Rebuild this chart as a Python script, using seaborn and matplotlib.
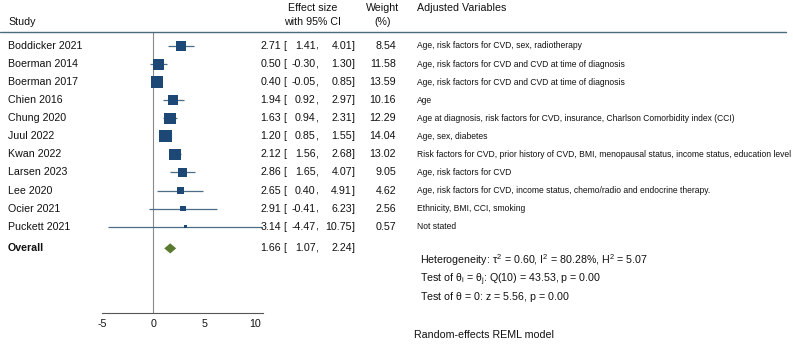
import numpy as np
import pandas as pd
import matplotlib
matplotlib.use("Agg")
import matplotlib.pyplot as plt
import matplotlib.transforms as mtransforms
from matplotlib.lines import Line2D
import seaborn as sns

studies = ["Boddicker 2021", "Boerman 2014", "Boerman 2017", "Chien 2016", "Chung 2020",
           "Juul 2022", "Kwan 2022", "Larsen 2023", "Lee 2020", "Ocier 2021", "Puckett 2021"]
effect = [2.71, 0.50, 0.40, 1.94, 1.63, 1.20, 2.12, 2.86, 2.65, 2.91, 3.14]
ci_low = [1.41, -0.30, -0.05, 0.92, 0.94, 0.85, 1.56, 1.65, 0.40, -0.41, -4.47]
ci_high = [4.01, 1.30, 0.85, 2.97, 2.31, 1.55, 2.68, 4.07, 4.91, 6.23, 10.75]
weights = [8.54, 11.58, 13.59, 10.16, 12.29, 14.04, 13.02, 9.05, 4.62, 2.56, 0.57]
adjusted = [
    "Age, risk factors for CVD, sex, radiotherapy",
    "Age, risk factors for CVD and CVD at time of diagnosis",
    "Age, risk factors for CVD and CVD at time of diagnosis",
    "Age",
    "Age at diagnosis, risk factors for CVD, insurance, Charlson Comorbidity index (CCI)",
    "Age, sex, diabetes",
    "Risk factors for CVD, prior history of CVD, BMI, menopausal status, income status, education level",
    "Age, risk factors for CVD",
    "Age, risk factors for CVD, income status, chemo/radio and endocrine therapy.",
    "Ethnicity, BMI, CCI, smoking",
    "Not stated",
]
overall = [1.66, 1.07, 2.24]  # estimate, low, high
het_lines = [
    r"Heterogeneity: $\tau^2$ = 0.60, I$^2$ = 80.28%, H$^2$ = 5.07",
    r"Test of $\theta_i$ = $\theta_j$: Q(10) = 43.53, p = 0.00",
    r"Test of $\theta$ = 0: z = 5.56, p = 0.00",
]
xticks = [-5, 0, 5, 10]

sns.set_theme(style="white")
plt.rcParams["font.family"] = ["Liberation Sans", "DejaVu Sans"]
plt.rcParams["mathtext.fontset"] = "custom"
plt.rcParams["mathtext.rm"] = "Liberation Sans"
plt.rcParams["mathtext.it"] = "Liberation Sans"

W, H = 793, 344
fig = plt.figure(figsize=(W / 100, H / 100), dpi=100)
fig.patch.set_facecolor("white")

# forest panel: x from -5 (px 102.3) to 10.78 (px 263.3), y from px 32 to 313
ax = fig.add_axes([102.3 / W, (H - 313) / H, 161 / W, (313 - 32) / H])
rows = np.arange(len(studies))
overall_y = len(studies) + 0.2
df = pd.DataFrame({"study": studies, "effect": effect, "lo": ci_low,
                   "hi": ci_high, "weight": weights, "row": rows})

ci_col = "#4d6d86"
sq_col = "#1d4775"
ax.hlines(df["row"], df["lo"], df["hi"], color=ci_col, lw=0.9, zorder=2)
sns.scatterplot(data=df, x="effect", y="row", size="weight", sizes=(0.57 * 5.5, 14.04 * 5.5),
                marker="s", color=sq_col, edgecolor="none", legend=False, ax=ax, zorder=3)
ax.fill([overall[1], overall[0], overall[2], overall[0]],
        [overall_y, overall_y - 0.28, overall_y, overall_y + 0.28],
        color="#5a7a2f", lw=0, zorder=3)
ax.axvline(0, color="#8a8a8a", lw=0.8, zorder=1)

ax.set_xlim(-5, 10.78)
ax.set_ylim((313 - 46) / 18.07, (32 - 46) / 18.07)
ax.set_xticks(xticks)
ax.set_xticklabels([str(t) for t in xticks], fontsize=7.7)
ax.set_yticks([])
ax.set_xlabel("")
ax.set_ylabel("")
for s in ["top", "right", "left"]:
    ax.spines[s].set_visible(False)
ax.spines["bottom"].set_color("#555555")
ax.spines["bottom"].set_linewidth(0.8)
ax.tick_params(axis="x", direction="out", length=3, width=0.8, color="#555555", pad=1, labelcolor="#111111")
ax.patch.set_alpha(0)

tr = mtransforms.blended_transform_factory(fig.transFigure, ax.transData)
fs = 7.7
txt = "#111111"

def fx(px):
    return px / W

def fy(py):
    return 1 - py / H

def ci_text(y, est, lo, hi):
    ax.text(fx(281), y, f"{est:.2f}", transform=tr, fontsize=fs, va="center", ha="right", color=txt)
    ax.text(fx(283), y, "[", transform=tr, fontsize=fs, va="center", ha="left", color=txt)
    ax.text(fx(315.5), y, f"{lo:.2f}", transform=tr, fontsize=fs, va="center", ha="right", color=txt)
    ax.text(fx(315.5), y, ",", transform=tr, fontsize=fs, va="center", ha="left", color=txt)
    ax.text(fx(352), y, f"{hi:.2f}", transform=tr, fontsize=fs, va="center", ha="right", color=txt)
    ax.text(fx(352), y, "]", transform=tr, fontsize=fs, va="center", ha="left", color=txt)

for i, name in enumerate(studies):
    ax.text(fx(8), i, name, transform=tr, fontsize=fs, va="center", ha="left", color=txt, clip_on=False)
    ci_text(i, effect[i], ci_low[i], ci_high[i])
    ax.text(fx(396), i, f"{weights[i]:.2f}", transform=tr, fontsize=fs, va="center", ha="right", color=txt)
    ax.text(fx(417), i, adjusted[i], transform=tr, fontsize=6.15, va="center", ha="left", color=txt)

ax.text(fx(8), overall_y, "Overall", transform=tr, fontsize=fs, va="center", ha="left",
        fontweight="bold", color=txt)
ci_text(overall_y, overall[0], overall[1], overall[2])

# header
fig.text(fx(8), fy(22), "Study", fontsize=fs, va="center", ha="left", color=txt)
fig.text(fx(313), fy(8), "Effect size", fontsize=fs, va="center", ha="center", color=txt)
fig.text(fx(313), fy(22), "with 95% CI", fontsize=fs, va="center", ha="center", color=txt)
fig.text(fx(383), fy(8), "Weight", fontsize=fs, va="center", ha="center", color=txt)
fig.text(fx(383), fy(22), "(%)", fontsize=fs, va="center", ha="center", color=txt)
fig.text(fx(417), fy(8), "Adjusted Variables", fontsize=fs, va="center", ha="left", color=txt)
fig.add_artist(Line2D([fx(0), fx(786)], [fy(32), fy(32)], transform=fig.transFigure,
                      color="#4a6a80", lw=1.0))

# heterogeneity block
for k, line in enumerate(het_lines):
    fig.text(fx(420.5), fy(264.5 + 18 * k), line, fontsize=fs, va="baseline", ha="left", color=txt)
fig.text(fx(414), fy(335), "Random-effects REML model", fontsize=fs, va="center", ha="left", color=txt)

fig.savefig("out.png", dpi=100, facecolor="white")
